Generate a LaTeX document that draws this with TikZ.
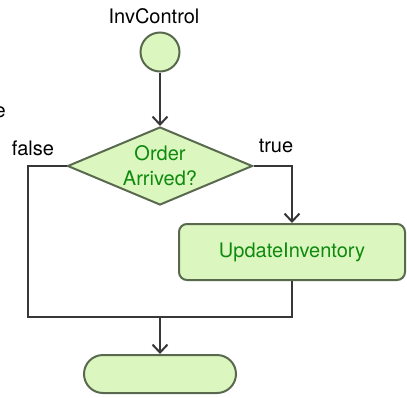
\documentclass[tikz,border=0pt]{standalone}
\usepackage{fontspec}
\setmainfont{TeX Gyre Heros}
\usepackage{tikz}
\usetikzlibrary{arrows.meta,shapes.geometric,positioning}
\definecolor{actfill}{RGB}{220,246,192}
\definecolor{actdraw}{RGB}{88,105,78}
\definecolor{acttext}{RGB}{15,138,15}
\definecolor{flowline}{RGB}{55,55,55}
\tikzset{
>={Straight Barb[length=8pt,width=15pt,line width=2pt]},
  activity/.style={
    draw=actdraw, line width=2pt,
    fill=actfill,
    text=acttext,
    font=\fontsize{20}{25}\selectfont},
  decision/.style={
    activity,
    diamond,
    aspect=2.37,
    inner sep=0pt,
    align=center,
    minimum width=185pt,
    minimum height=78pt},
  action/.style={
    activity,
    rectangle,
    rounded corners=8pt,
    minimum width=226pt,
    minimum height=56pt},
  initial/.style={
    activity,
    circle,
    minimum size=39pt},
  final/.style={
    activity,
    rectangle,
    rounded corners=19pt,
    minimum width=152pt,
    minimum height=38pt},
  flow/.style={draw=flowline, line width=2.4pt},
  guard/.style={font=\fontsize{20}{24}\selectfont, inner sep=0pt}
}
\begin{document}
\begin{tikzpicture}[x=1pt,y=-1pt]
    \useasboundingbox (0,0) rectangle (407,397);

    \node[guard] (title) at (154,16) {InvControl};
    \node[guard, anchor=base east] (cut) at (6,117) {e};

    \node[initial] (start) at (160,52) {};
    \node[decision] (order) at (160,166) {Order\\Arrived?};
    \node[action] (update) at (292,252) {UpdateInventory};
    \node[final] (stop) at (160,374) {};

    \node[guard] (no) at (33,148) {false};
    \node[guard] (yes) at (276,146) {true};

    \coordinate (fcorner) at (28,317);
    \coordinate (merge) at (160,317);

    \draw[flow,->] (start) -- (order);
    \draw[flow,->] (order.east) -| (update.north);
    \draw[flow] (order.west) -| (fcorner)
                             -- (update.south |- fcorner)
                             -- (update.south);
    \draw[flow,->] (merge) -- (stop);
\end{tikzpicture}
\end{document}
